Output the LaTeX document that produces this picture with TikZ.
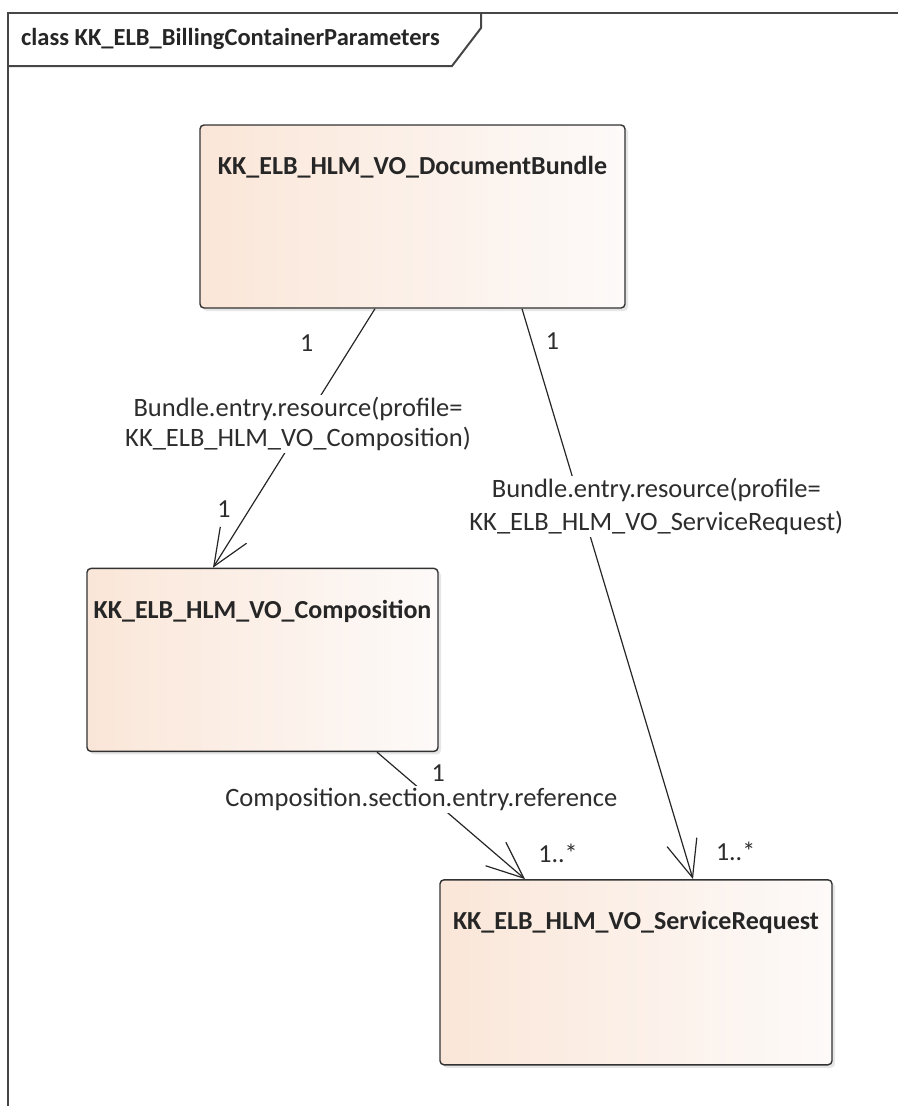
\documentclass[tikz,border=0pt]{standalone}
\usepackage{fontspec}
\setmainfont{Carlito}
\usetikzlibrary{positioning,arrows.meta,shadows}

\definecolor{boxleft}{RGB}{250,230,216}
\definecolor{boxright}{RGB}{253,250,249}
\definecolor{boxline}{RGB}{50,50,50}
\definecolor{frameline}{RGB}{70,70,70}
\definecolor{labeltext}{RGB}{45,45,45}

\tikzset{
  umlclass/.style={draw=boxline, line width=1.4pt, rounded corners=4pt,
    left color=boxleft, right color=boxright,
    drop shadow={shadow xshift=3pt, shadow yshift=-3pt, opacity=0.2},
    label={[anchor=north, yshift=-32pt, inner sep=0pt, font=\fontsize{26}{30}\selectfont\bfseries, text=black!85]north:#1}},
  conn/.style={draw=black!85, line width=1.2pt, -{Straight Barb[length=37pt, width=31pt, line width=1.2pt]}},
  assoc/.style={font=\fontsize{26.5}{30}\selectfont, text=labeltext, align=center, fill=white, inner sep=2pt},
  mult/.style={font=\fontsize{26}{30}\selectfont, text=labeltext, inner sep=1pt}
}

\begin{document}
\begin{tikzpicture}[x=1pt, y=-1pt]
    \useasboundingbox (0,0) rectangle (898,1106);
    % frame
    \draw[frameline, line width=2pt] (898,13) -- (8,13) -- (8,1106);
    \draw[frameline, line width=2pt] (8,66) -- (452,66) -- (481,28) -- (481,13);
    \node [anchor=west, inner sep=0pt, font=\fontsize{24.5}{28}\selectfont\bfseries, text=black!85] (frametitle) at (21,39) {class KK\_ELB\_BillingContainerParameters};

    \node [umlclass={KK\_ELB\_HLM\_VO\_DocumentBundle}, minimum width=425pt, minimum height=183pt] (bundle) at (412.5,216.5) {};
    \node [umlclass={KK\_ELB\_HLM\_VO\_Composition}, minimum width=351pt, minimum height=183pt] [below=259pt of bundle, xshift=-150pt] (comp) {};
    \node [umlclass={KK\_ELB\_HLM\_VO\_ServiceRequest}, minimum width=392pt, minimum height=185pt] [below=127pt of comp, xshift=373.5pt] (servreq) {};

      \path
      ([xshift=-37.5pt]bundle.south) edge [conn]
        node [mult, pos=0.131, xshift=-47pt] {1}
        node [assoc, pos=0.444, xshift=-5pt] {Bundle.entry.resource(profile=\\KK\_ELB\_HLM\_VO\_Composition)}
        node [mult, pos=0.772, xshift=-26pt] {1}
        ([xshift=-49.5pt]comp.north)
      ([xshift=109.5pt]bundle.south) edge [conn]
        node [mult, pos=0.056, xshift=21pt] {1}
        node [assoc, pos=0.347, xshift=75pt] {Bundle.entry.resource(profile=\\[3pt]KK\_ELB\_HLM\_VO\_ServiceRequest)}
        node [mult, pos=0.951, xshift=51pt] {1..*}
        ([xshift=57pt]servreq.north)
      ([xshift=114.5pt]comp.south) edge [conn]
        node [mult, pos=0.163, xshift=37pt] {1}
        node [assoc, pos=0.374, xshift=-11pt] {Composition.section.entry.reference}
        node [mult, pos=0.797, xshift=63pt] {1..*}
        ([xshift=-111pt]servreq.north)
      ;
\end{tikzpicture}
\end{document}
